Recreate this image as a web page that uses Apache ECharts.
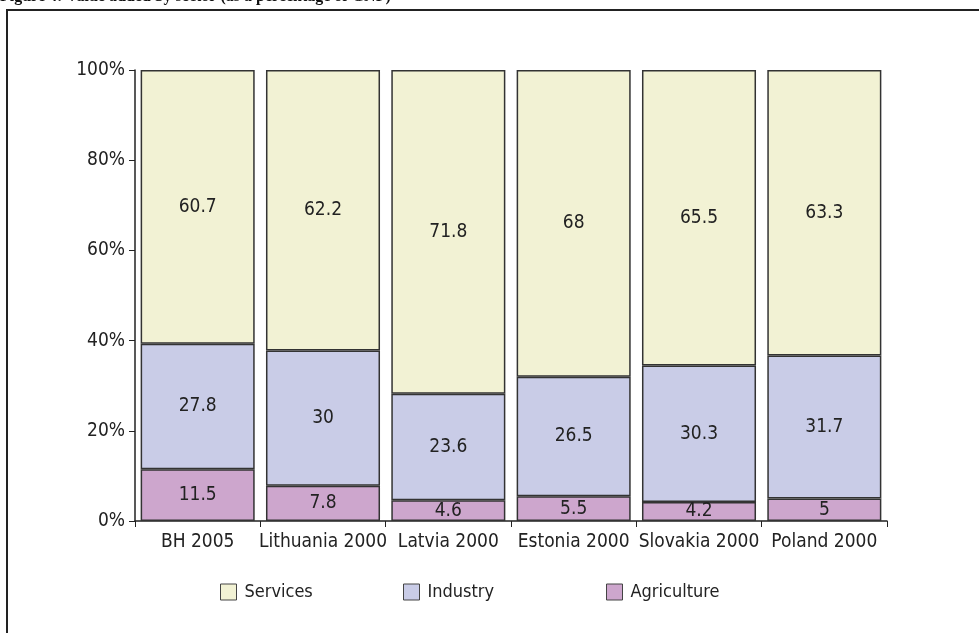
<!DOCTYPE html>
<html>
<head>
<meta charset="utf-8">
<script src="https://cdn.jsdelivr.net/npm/echarts@6/dist/echarts.min.js"></script>
<style>
html, body { margin: 0; padding: 0; background: #fff; }
#chart { width: 979px; height: 633px; }
</style>
</head>
<body>
<div id="chart"></div>
<script>
const categories = ['BH 2005', 'Lithuania 2000', 'Latvia 2000', 'Estonia 2000', 'Slovakia 2000', 'Poland 2000']
const agriculture = [11.5, 7.8, 4.6, 5.5, 4.2, 5]
const industry = [27.8, 30, 23.6, 26.5, 30.3, 31.7]
const services = [60.7, 62.2, 71.8, 68, 65.5, 63.3]
const yTicks = [0, 20, 40, 60, 80, 100]

const font = '"DejaVu Sans Condensed", "Liberation Sans Narrow", sans-serif'
const colors = {
  Services: '#f2f2d4',
  Industry: '#c9cce7',
  Agriculture: '#cda6cd'
}

function makeSeries(name, data) {
  return {
    name: name,
    type: 'bar',
    stack: 'total',
    barCategoryGap: '9%',
    data: data,
    animation: false,
    itemStyle: {
      color: colors[name],
      borderColor: '#333',
      borderWidth: 1.5
    },
    label: {
      show: true,
      position: 'inside',
      color: '#222',
      fontFamily: font,
      fontSize: 19,
      formatter: '{c}'
    }
  }
}

function legendItem(name, left) {
  return {
    data: [name],
    left: left,
    top: 578,
    itemWidth: 16,
    itemHeight: 16,
    itemGap: 0,
    icon: 'rect',
    itemStyle: { borderColor: '#444', borderWidth: 1 },
    textStyle: { fontFamily: font, fontSize: 18, color: '#222', padding: [0, 0, 0, 3] }
  }
}

const chart = echarts.init(document.getElementById('chart'))
chart.setOption({
  backgroundColor: '#fff',
  animation: false,
  grid: { left: 135, right: 92, top: 70, bottom: 112 },
  graphic: [
    {
      type: 'text',
      left: 0,
      top: -11,
      style: {
        text: 'Figure 4: Value added by sector (as a percentage of GNP)',
        font: 'bold 16px "Liberation Serif", serif',
        fill: '#111'
      }
    },
    {
      type: 'rect',
      shape: { x: 7, y: 10, width: 1000, height: 700 },
      style: { fill: 'none', stroke: '#222', lineWidth: 2 }
    }
  ],
  legend: [
    legendItem('Services', 215),
    legendItem('Industry', 398),
    legendItem('Agriculture', 601)
  ],
  xAxis: {
    type: 'category',
    data: categories,
    axisLine: { lineStyle: { color: '#222', width: 1.5 } },
    axisTick: { show: true, alignWithLabel: false, length: 6, lineStyle: { color: '#222' } },
    axisLabel: { interval: 0, fontFamily: font, fontSize: 19, color: '#222', margin: 12 }
  },
  yAxis: {
    type: 'value',
    min: 0,
    max: 100,
    interval: 20,
    splitLine: { show: false },
    axisLine: { show: true, lineStyle: { color: '#222', width: 1.5 } },
    axisTick: { show: true, length: 6, lineStyle: { color: '#222' } },
    axisLabel: {
      fontFamily: font,
      fontSize: 19,
      color: '#222',
      margin: 10,
      formatter: function (v) { return yTicks.indexOf(v) >= 0 ? v + '%' : '' }
    }
  },
  series: [
    makeSeries('Agriculture', agriculture),
    makeSeries('Industry', industry),
    makeSeries('Services', services)
  ]
})
</script>
</body>
</html>
